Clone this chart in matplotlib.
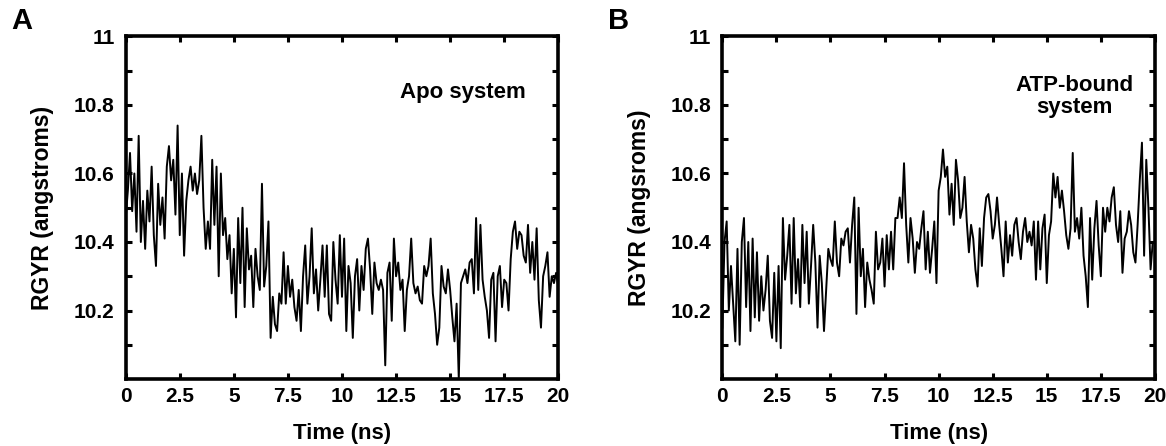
import matplotlib

matplotlib.use("Agg")
import matplotlib.pyplot as plt  # noqa: E402
import numpy as np  # noqa: E402

plt.rcParams["font.family"] = ["Liberation Sans", "DejaVu Sans"]
plt.rcParams["font.weight"] = "bold"

# ---- data (0.1 ns steps) -------------------------------------------------
time_ns = np.round(np.arange(0, 201) * 0.1, 1)

rgyr_apo = [
    10.47, 10.55, 10.66, 10.49, 10.60, 10.43, 10.71, 10.40, 10.52, 10.38,
    10.55, 10.46, 10.62, 10.42, 10.33, 10.57, 10.45, 10.53, 10.41, 10.62,
    10.68, 10.58, 10.64, 10.48, 10.74, 10.42, 10.60, 10.36, 10.52, 10.58,
    10.62, 10.55, 10.60, 10.54, 10.58, 10.71, 10.50, 10.38, 10.46, 10.38,
    10.64, 10.45, 10.62, 10.30, 10.60, 10.42, 10.47, 10.35, 10.42, 10.25,
    10.38, 10.18, 10.47, 10.28, 10.50, 10.21, 10.44, 10.32, 10.36, 10.21,
    10.38, 10.30, 10.26, 10.57, 10.27, 10.33, 10.46, 10.12, 10.24, 10.16,
    10.14, 10.25, 10.22, 10.37, 10.22, 10.33, 10.24, 10.29, 10.21, 10.17,
    10.26, 10.14, 10.30, 10.39, 10.22, 10.30, 10.44, 10.25, 10.32, 10.20,
    10.29, 10.39, 10.24, 10.39, 10.19, 10.17, 10.40, 10.29, 10.22, 10.42,
    10.24, 10.41, 10.14, 10.33, 10.28, 10.12, 10.30, 10.35, 10.20, 10.33,
    10.26, 10.38, 10.41, 10.32, 10.19, 10.34, 10.28, 10.26, 10.29, 10.26,
    10.04, 10.31, 10.34, 10.17, 10.41, 10.30, 10.34, 10.26, 10.29, 10.14,
    10.26, 10.30, 10.41, 10.28, 10.25, 10.27, 10.23, 10.22, 10.33, 10.30,
    10.33, 10.41, 10.25, 10.19, 10.10, 10.15, 10.33, 10.27, 10.25, 10.32,
    10.26, 10.18, 10.11, 10.22, 10.00, 10.28, 10.30, 10.32, 10.28, 10.34,
    10.35, 10.25, 10.47, 10.26, 10.45, 10.29, 10.24, 10.20, 10.12, 10.29,
    10.31, 10.11, 10.30, 10.33, 10.21, 10.29, 10.28, 10.20, 10.35, 10.43,
    10.46, 10.38, 10.43, 10.42, 10.36, 10.34, 10.45, 10.31, 10.40, 10.29,
    10.44, 10.23, 10.15, 10.30, 10.33, 10.37, 10.24, 10.30, 10.28, 10.31,
    10.27,
]

rgyr_atp = [
    10.15, 10.40, 10.46, 10.20, 10.33, 10.22, 10.11, 10.38, 10.10, 10.40,
    10.47, 10.21, 10.40, 10.14, 10.41, 10.18, 10.37, 10.17, 10.30, 10.20,
    10.26, 10.36, 10.17, 10.12, 10.31, 10.11, 10.33, 10.09, 10.47, 10.29,
    10.36, 10.45, 10.22, 10.47, 10.25, 10.35, 10.21, 10.45, 10.28, 10.43,
    10.22, 10.33, 10.45, 10.34, 10.15, 10.36, 10.28, 10.14, 10.26, 10.38,
    10.35, 10.33, 10.46, 10.34, 10.30, 10.41, 10.39, 10.43, 10.44, 10.34,
    10.45, 10.53, 10.19, 10.50, 10.30, 10.38, 10.21, 10.34, 10.29, 10.26,
    10.22, 10.43, 10.32, 10.34, 10.41, 10.27, 10.42, 10.32, 10.43, 10.32,
    10.47, 10.47, 10.53, 10.47, 10.63, 10.45, 10.34, 10.47, 10.41, 10.31,
    10.40, 10.38, 10.44, 10.49, 10.32, 10.43, 10.31, 10.38, 10.46, 10.28,
    10.55, 10.59, 10.67, 10.59, 10.62, 10.48, 10.57, 10.45, 10.64, 10.58,
    10.47, 10.50, 10.59, 10.46, 10.37, 10.45, 10.41, 10.32, 10.27, 10.44,
    10.33, 10.47, 10.53, 10.54, 10.49, 10.41, 10.45, 10.53, 10.45, 10.38,
    10.30, 10.46, 10.34, 10.42, 10.36, 10.45, 10.47, 10.40, 10.35, 10.43,
    10.47, 10.40, 10.43, 10.39, 10.46, 10.29, 10.46, 10.32, 10.44, 10.48,
    10.28, 10.42, 10.46, 10.60, 10.53, 10.59, 10.50, 10.55, 10.49, 10.42,
    10.38, 10.44, 10.66, 10.43, 10.47, 10.41, 10.50, 10.36, 10.30, 10.21,
    10.47, 10.29, 10.44, 10.52, 10.39, 10.30, 10.50, 10.43, 10.50, 10.46,
    10.53, 10.56, 10.45, 10.40, 10.49, 10.31, 10.41, 10.43, 10.49, 10.45,
    10.37, 10.34, 10.45, 10.58, 10.69, 10.36, 10.64, 10.50, 10.32, 10.40,
    10.40,
]

x_ticks = [0, 2.5, 5, 7.5, 10, 12.5, 15, 17.5, 20]
x_tick_labels = ["0", "2.5", "5", "7.5", "10", "12.5", "15", "17.5", "20"]
y_ticks = [10.2, 10.4, 10.6, 10.8, 11.0]
y_tick_labels = ["10.2", "10.4", "10.6", "10.8", "11"]
y_minor = [10.1, 10.3, 10.5, 10.7, 10.9]

panels = [
    ("A", rgyr_apo, "RGYR (angstroms)", "Apo system", 0.78, 0.835),
    ("B", rgyr_atp, "RGYR (angsroms)", "ATP-bound\nsystem", 0.815, 0.825),
]

# ---- figure -----------------------------------------------------------------
fig = plt.figure(figsize=(11.66, 4.46), dpi=100)
lefts = [0.1078, 0.6195]

for (tag, vals, ylab, note, nx, ny), left in zip(panels, lefts):
    ax = fig.add_axes([left, 0.1502, 0.371, 0.768])
    ax.plot(time_ns, vals, color="black", lw=1.4)
    ax.set_xlim(0, 20)
    ax.set_ylim(10.0, 11.0)

    ax.set_xticks(x_ticks)
    ax.set_xticklabels(x_tick_labels)
    ax.set_yticks(y_ticks)
    ax.set_yticklabels(y_tick_labels)
    ax.set_yticks(y_minor, minor=True)
    ax.tick_params(which="both", direction="in", top=True, right=True,
                   length=4, width=2.2, labelsize=15)
    ax.tick_params(axis="y", pad=8)
    ax.tick_params(axis="x", pad=6)
    for lab in ax.get_xticklabels() + ax.get_yticklabels():
        lab.set_fontweight("bold")
    for sp in ax.spines.values():
        sp.set_linewidth(2.6)

    ax.set_xlabel("Time (ns)", fontsize=16, fontweight="bold", labelpad=12)
    ax.set_ylabel(ylab, fontsize=16.5, fontweight="bold", labelpad=14)
    ax.text(nx, ny, note, transform=ax.transAxes, ha="center",
            va="center", fontsize=16, fontweight="bold", linespacing=1.1)

    fig.text(left - 0.098, 0.952, tag, fontsize=21, fontweight="bold",
             ha="left", va="center")

fig.savefig("out.png", dpi=100, facecolor="white")
